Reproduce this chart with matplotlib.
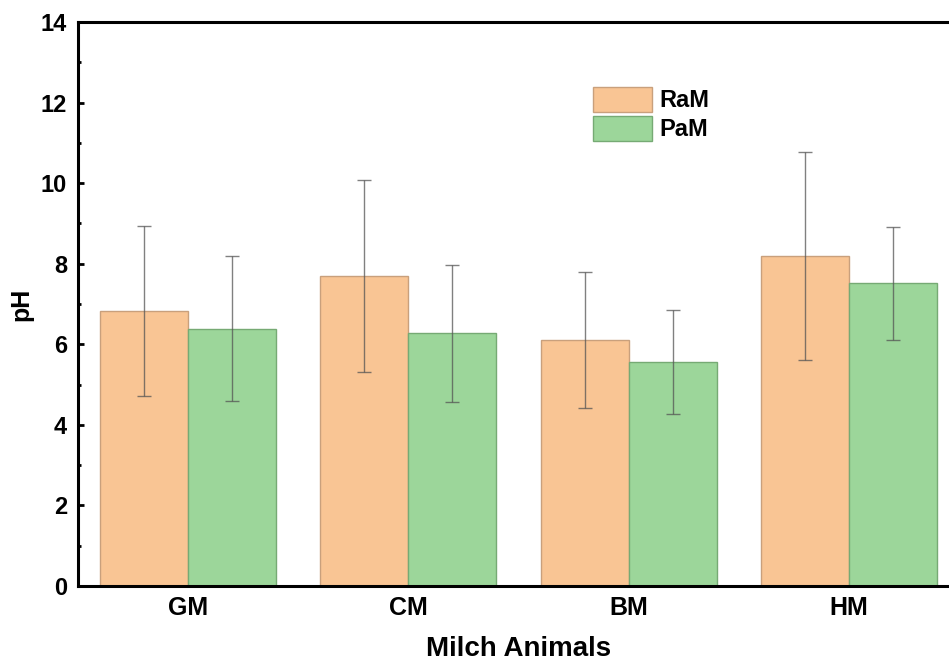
import numpy as np
import matplotlib.pyplot as plt
from matplotlib.ticker import MultipleLocator

plt.rcParams["font.family"] = ["Liberation Sans", "DejaVu Sans"]
plt.rcParams["font.weight"] = "bold"

# Values
animals = ["GM", "CM", "BM", "HM"]
ram_mean = [6.82, 7.70, 6.10, 8.19]
ram_err = [2.11, 2.39, 1.69, 2.59]
pam_mean = [6.38, 6.27, 5.56, 7.51]
pam_err = [1.80, 1.70, 1.29, 1.41]

fig = plt.figure(figsize=(9.49, 6.64), dpi=100)
ax = fig.add_axes([78 / 949, 78 / 664, 881 / 949, 564 / 664])

x = np.arange(len(animals))
width = 0.4
err_style = dict(ecolor="#555555", elinewidth=1.0, capsize=5, capthick=1.0, alpha=0.75)

ax.bar(x - width / 2, ram_mean, width, yerr=ram_err, color="#f9c594",
       edgecolor="#c9a07c", linewidth=1.0, label="RaM", error_kw=err_style)
ax.bar(x + width / 2, pam_mean, width, yerr=pam_err, color="#9cd69a",
       edgecolor="#76aa74", linewidth=1.0, label="PaM", error_kw=err_style)

ax.set_xlim(-0.5, 3.5)
ax.set_ylim(0, 14)
ax.set_xticks(x)
ax.set_xticklabels(animals)
ax.yaxis.set_major_locator(MultipleLocator(2))
ax.yaxis.set_minor_locator(MultipleLocator(1))

for side in ["left", "bottom", "top", "right"]:
    ax.spines[side].set_linewidth(2.2)
ax.tick_params(axis="y", which="major", direction="in", length=4, width=2, labelsize=17, pad=8)
ax.tick_params(axis="y", which="minor", direction="in", length=2.5, width=2)
ax.tick_params(axis="x", length=0, labelsize=18, pad=7)

ax.set_xlabel("Milch Animals", fontsize=20, fontweight="bold", labelpad=12)
ax.set_ylabel("pH", fontsize=18, fontweight="bold", labelpad=5)

ax.legend(loc="upper left", bbox_to_anchor=(593 / 949, 1 - 87 / 664),
          bbox_transform=fig.transFigure, frameon=False, fontsize=17,
          handlelength=2.5, handleheight=1.25, handletextpad=0.3,
          labelspacing=0.15, borderpad=0, borderaxespad=0)

fig.savefig("out.png", dpi=100)
